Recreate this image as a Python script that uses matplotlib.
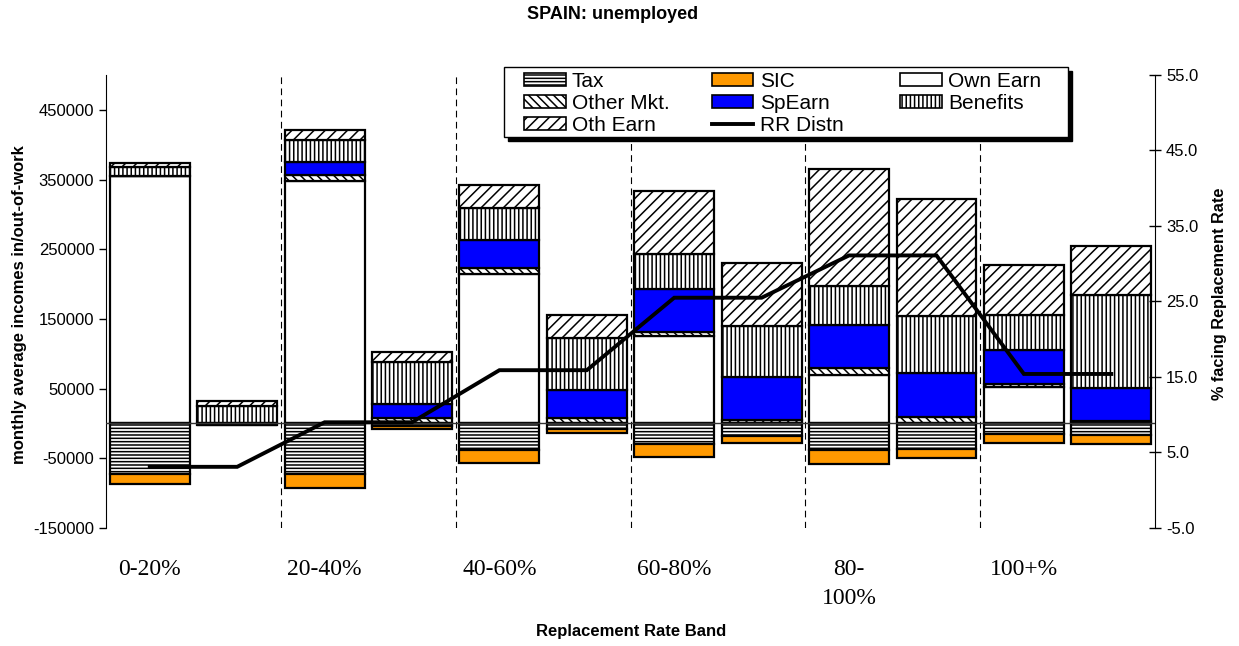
import numpy as np
import matplotlib
matplotlib.use('Agg')
from matplotlib import pyplot as plt
from matplotlib.patches import Patch, Rectangle
from matplotlib.lines import Line2D

# replacement rate bands (two bars per band)
bands = ['0-20%', '20-40%', '40-60%', '60-80%', '80-\n100%', '100+%']

# monthly average incomes, one value per bar (in-work / out-of-work per band)
own_earn = [355700, 0, 348600, 0, 215100, 0, 126100, 0, 69000, 0, 52300, 0]
other_mkt = [0, 0, 8100, 7100, 8600, 7100, 4700, 4700, 11000, 9700, 4800, 3300]
sp_earn = [0, 0, 18000, 21400, 39100, 41400, 62000, 61900, 61400, 62000, 47600, 47600]
benefits = [11900, 25700, 32400, 59400, 45700, 74300, 50000, 72900, 55700, 83000, 51000, 133300]
oth_earn = [6300, 6200, 14300, 14300, 34300, 33300, 90400, 90600, 168600, 167600, 71400, 70500]
tax = [-72900, -2000, -72900, -4000, -38100, -8600, -29600, -18100, -38100, -37100, -14800, -16700]
sic = [-14300, 0, -20000, -4300, -19000, -5000, -19000, -10500, -20000, -13000, -12900, -13300]

# % facing replacement rate, one per band
rr_distn = [3.1, 9.0, 15.9, 25.5, 31.1, 15.4]

plt.rcParams['font.family'] = ['Liberation Sans', 'DejaVu Sans']
plt.rcParams['hatch.linewidth'] = 1.1

H_TAX, H_OMKT, H_BEN, H_OTH = '-----', '\\\\\\\\', '||||', '///'
C_SIC, C_SP = '#ff9900', '#0000ff'

fig = plt.figure(figsize=(12.39, 6.46), dpi=100)
ax = fig.add_axes([0.0856, 0.1827, 0.8466, 0.7012])

x = np.arange(len(own_earn))
w = 0.914
ekw = dict(edgecolor='black', linewidth=1.6, width=w)

pos_layers = [(own_earn, 'white', None), (other_mkt, 'white', H_OMKT), (sp_earn, C_SP, None),
              (benefits, 'white', H_BEN), (oth_earn, 'white', H_OTH)]
bottom = np.zeros(len(x))
for vals, fc, h in pos_layers:
    vals = np.array(vals, dtype=float)
    ax.bar(x, vals, bottom=bottom, facecolor=fc, hatch=h, **ekw)
    bottom += vals

neg_layers = [(tax, 'white', H_TAX), (sic, C_SIC, None)]
bottom = np.zeros(len(x))
for vals, fc, h in neg_layers:
    vals = np.array(vals, dtype=float)
    ax.bar(x, vals, bottom=bottom, facecolor=fc, hatch=h, **ekw)
    bottom += vals

ax.axhline(0, color='#333333', lw=1.0, zorder=3)
for b in range(1, len(bands)):
    ax.axvline(2 * b - 0.5, color='black', lw=0.8, dashes=(6, 4))

ax.set_xlim(-0.5, len(x) - 0.5)
ax.set_ylim(-150000, 500000)
yt = np.arange(-150000, 500000, 100000)
ax.set_yticks(yt)
ax.set_yticklabels([str(v) for v in yt], fontsize=12)
ax.set_xticks(np.arange(0, len(x), 2))
ax.set_xticklabels(bands, fontsize=17, family=['Liberation Serif'], linespacing=1.5)
ax.tick_params(axis='x', length=0, pad=22)
ax.tick_params(axis='y', direction='out', length=5, width=1)
for s in ['top', 'bottom', 'right']:
    ax.spines[s].set_visible(False)

ax2 = ax.twinx()
ax2.plot(x, np.repeat(rr_distn, 2), color='black', lw=2.8, solid_joinstyle='miter')
ax2.set_ylim(-5, 55)
rt = np.arange(-5, 56, 10)
ax2.set_yticks(rt)
ax2.set_yticklabels(['%.1f' % v for v in rt], fontsize=12)
ax2.tick_params(axis='y', direction='inout', length=9, width=1)
for s in ['top', 'bottom', 'left']:
    ax2.spines[s].set_visible(False)

fig.text(0.494, 0.977, 'SPAIN: unemployed', ha='center', va='center', fontsize=13, fontweight='bold')
fig.text(0.509, 0.022, 'Replacement Rate Band', ha='center', va='center', fontsize=12, fontweight='bold')
fig.text(0.016, 0.529, 'monthly average incomes in/out-of-work', ha='center', va='center',
         rotation=90, fontsize=12, fontweight='bold')
fig.text(0.984, 0.545, '% facing Replacement Rate', ha='center', va='center',
         rotation=90, fontsize=11.7, fontweight='bold')

# legend box with a hard black shadow
fig.add_artist(Rectangle((0.4068 + 4 / 1239, 0.7879 - 4 / 646), 0.4552, 0.1088,
                         transform=fig.transFigure, facecolor='black', edgecolor='black', zorder=1))
fig.add_artist(Rectangle((0.4068, 0.7879), 0.4552, 0.1088, transform=fig.transFigure,
                         facecolor='white', edgecolor='black', lw=1.0, zorder=1.1))


def patch(fc, hatch=None):
    return Patch(facecolor=fc, edgecolor='black', hatch=hatch, linewidth=1.2)


columns = [
    ([patch('white', H_TAX), patch('white', H_OMKT), patch('white', H_OTH)],
     ['Tax', 'Other Mkt.', 'Oth Earn']),
    ([patch(C_SIC), patch(C_SP), Line2D([], [], color='black', lw=2.8)],
     ['SIC', 'SpEarn', 'RR Distn']),
    ([patch('white'), patch('white', H_BEN)], ['Own Earn', 'Benefits']),
]
col_x = [0.4229, 0.5744, 0.7264]
for (hs, ls), cx in zip(columns, col_x):
    fig.legend(hs, ls, loc='upper left', bbox_to_anchor=(cx, 0.889), frameon=False,
               borderaxespad=0, borderpad=0, fontsize=15, handlelength=2.0, handleheight=0.6,
               handletextpad=0.3, labelspacing=0.15)

fig.savefig('out.png', dpi=100)
